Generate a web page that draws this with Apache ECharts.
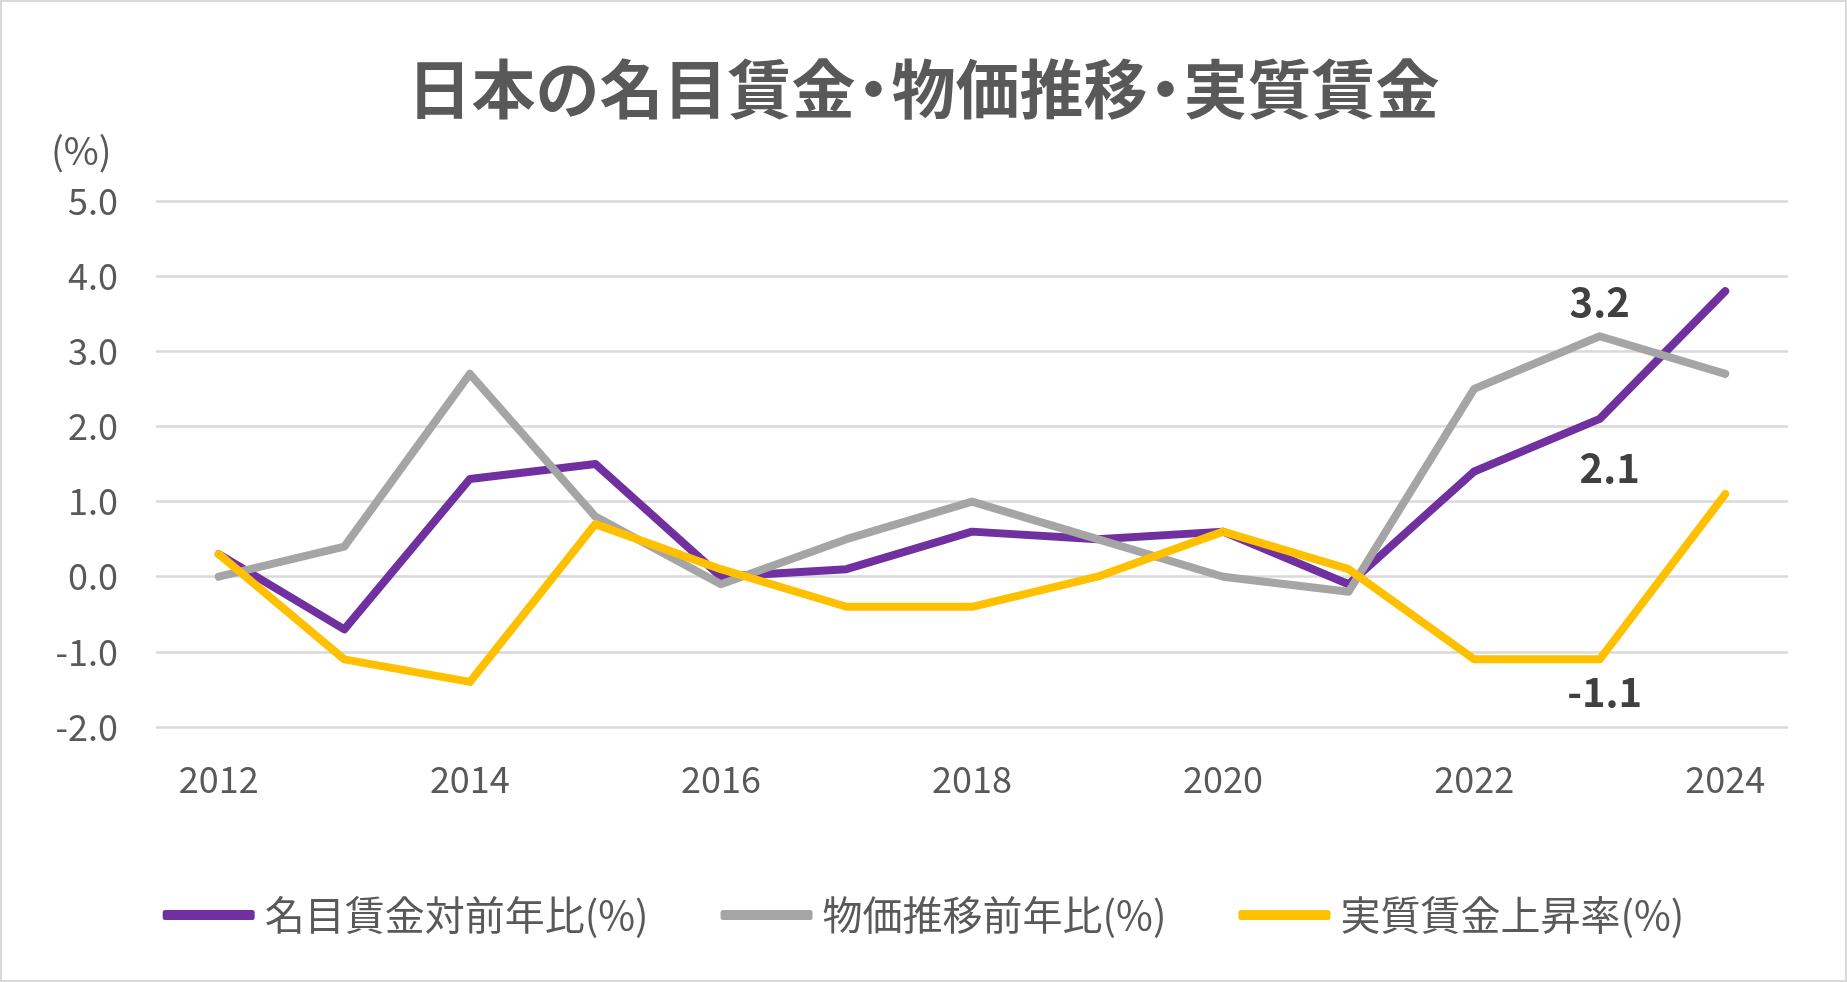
<!DOCTYPE html>
<html>
<head>
<meta charset="utf-8">
<script src="https://cdn.jsdelivr.net/npm/echarts@6/dist/echarts.min.js"></script>
<style>
html,body{margin:0;padding:0;background:#fff;}
#c{width:1847px;height:982px;box-sizing:border-box;border:2px solid #D9D9D9;}
</style>
</head>
<body>
<div id="c"></div>
<script>
const years = ['2012','2013','2014','2015','2016','2017','2018','2019','2020','2021','2022','2023','2024'];
const nominalWage = [0.3,-0.7,1.3,1.5,0.0,0.1,0.6,0.5,0.6,-0.1,1.4,2.1,3.8];
const priceIndex  = [0.0,0.4,2.7,0.8,-0.1,0.5,1.0,0.5,0.0,-0.2,2.5,3.2,2.7];
const realWage    = [0.3,-1.1,-1.4,0.7,0.1,-0.4,-0.4,0.0,0.6,0.1,-1.1,-1.1,1.1];
const seriesNames = ['名目賃金対前年比(%)','物価推移前年比(%)','実質賃金上昇率(%)'];
const titleParts = ['日本の名目賃金','物価推移','実質賃金'];
const yTicks = {min:-2, max:5, interval:1};

const FONT = '"Noto Sans CJK JP","Noto Sans",sans-serif';
const labelIdx = 11;
function withLabel(arr, labelCfg){
  return arr.map((v,i)=> i===labelIdx ? {value:v, label:Object.assign({show:true, formatter:(p)=>p.value.toFixed(1), color:'#404040', fontSize:40, fontWeight:'bold', fontFamily:FONT}, labelCfg)} : v);
}
const colors = ['#7030A0','#A5A5A5','#FFC000'];
function mkSeries(name, data, color){
  return {name, type:'line', data, showSymbol:true, symbol:'circle', symbolSize:1, smooth:false,
    lineStyle:{width:8, color, cap:'round', join:'round'}, itemStyle:{color},
    label:{show:false},
    emphasis:{disabled:true}, animation:false};
}
const chart = echarts.init(document.getElementById('c'), null, {renderer:'canvas'});
chart.setOption({
  backgroundColor:'#fff',
  animation:false,
  color: colors,
  title:[
    {text:titleParts.map(s=>'{a|'+s+'}').join('{b|・}'), left:'center', top:50,
     textStyle:{fontSize:64, fontWeight:'bold', color:'#595959', fontFamily:FONT,
       rich:{a:{fontSize:64, fontWeight:'bold', color:'#595959', fontFamily:FONT},
             b:{fontSize:64, fontWeight:'bold', color:'#595959', fontFamily:FONT, width:36, align:'center'}}}},
    {text:'(%)', left:44, top:125,
     textStyle:{fontSize:38, fontWeight:'normal', color:'#595959', fontFamily:FONT}}
  ],
  legend:{
    data:seriesNames, left:'center', top:888, itemWidth:92, itemHeight:10, itemGap:72,
    icon:'roundRect', itemStyle:{opacity:1},
    textStyle:{fontSize:40, color:'#595959', fontFamily:FONT, lineHeight:40, padding:[0,0,0,5]}
  },
  grid:{left:154, right:57, top:199, bottom:253, containLabel:false},
  xAxis:{type:'category', data:years, boundaryGap:true,
    axisLine:{show:false}, axisTick:{show:false},
    axisLabel:{interval:1, margin:34, fontSize:36, color:'#595959', fontFamily:FONT, lineHeight:36},
    splitLine:{show:false}},
  yAxis:{type:'value', min:yTicks.min, max:yTicks.max, interval:yTicks.interval,
    axisLine:{show:false}, axisTick:{show:false},
    axisLabel:{margin:38, fontSize:36, color:'#595959', fontFamily:FONT, formatter:(v)=>v.toFixed(1)},
    splitLine:{lineStyle:{color:'#D9D9D9', width:2.5}}},
  series:[
    mkSeries(seriesNames[0], withLabel(nominalWage, {position:'bottom', distance:28, offset:[10,0]}), colors[0]),
    mkSeries(seriesNames[1], withLabel(priceIndex, {position:'top', distance:14}), colors[1]),
    mkSeries(seriesNames[2], withLabel(realWage, {position:'bottom', distance:12, offset:[5,0]}), colors[2])
  ]
});
</script>
</body>
</html>
